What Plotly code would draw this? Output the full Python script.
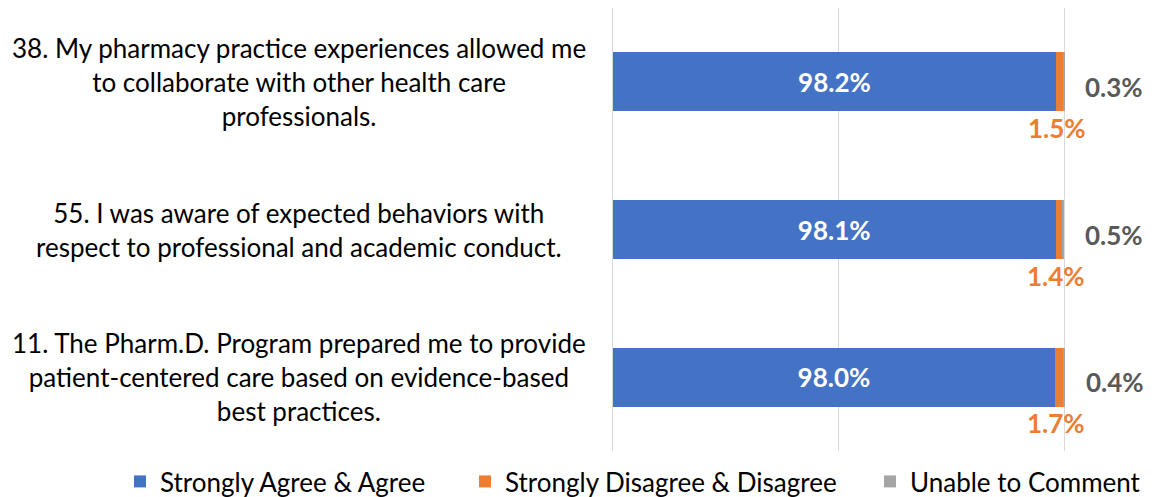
import plotly.graph_objects as go

categories = ["Q11", "Q55", "Q38"]
cat_labels = [
    "11. The Pharm.D. Program prepared me to provide<br>patient-centered care based on evidence-based<br>best practices.",
    "55. I was aware of expected behaviors with<br>respect to professional and academic conduct.",
    "38. My pharmacy practice experiences allowed me<br>to collaborate with other health care<br>professionals.",
]
agree = [98.0, 98.1, 98.2]
disagree = [1.7, 1.4, 1.5]
unable = [0.4, 0.5, 0.3]
series_names = ["Strongly Agree & Agree", "Strongly Disagree & Disagree", "Unable to Comment"]
colors = ["#4472C4", "#ED7D31", "#A5A5A5"]

FONT = "Lato"
FS = 26
# the page body adds an 8px margin, so the figure is 8px smaller than the window
FIG_W, FIG_H = 1147, 489
L, R = 600, 1061  # plot area edges in px (x range -1..101)
W = R - L
T, B = 0, 443

def px_to_paper(px):
    return (px - L) / W

legend_widths = [300, 360, None]

fig = go.Figure()
for k, vals in enumerate([agree, disagree, unable]):
    kw = {}
    if k == 0:
        kw = dict(text=[f"{v:.1f}%" for v in vals], textposition="inside",
                  insidetextanchor="middle",
                  textfont=dict(family=FONT, size=FS, color="white", weight="bold"))
    if legend_widths[k]:
        kw["legendwidth"] = legend_widths[k]
    fig.add_trace(go.Bar(
        y=categories, x=vals, orientation="h", name=series_names[k],
        marker=dict(color=colors[k], line=dict(width=0)),
        hoverinfo="skip", **kw,
    ))

annotations = []
for i, c in enumerate(categories):
    annotations.append(dict(
        x=agree[i] + disagree[i] / 2, y=c, xref="x", yref="y",
        text=f"{disagree[i]:.1f}%", showarrow=False, xanchor="center",
        yshift=-46, xshift=-3,
        font=dict(family=FONT, size=FS, color="#ED7D31", weight="bold"),
    ))
    annotations.append(dict(
        x=agree[i] + disagree[i] + unable[i], y=c, xref="x", yref="y",
        text=f"{unable[i]:.1f}%", showarrow=False, xanchor="center",
        xshift=50, yshift=-5,
        font=dict(family=FONT, size=FS, color="#595959", weight="bold"),
    ))
    annotations.append(dict(
        x=px_to_paper(291), y=c, xref="paper", yref="y",
        text=cat_labels[i], showarrow=False, xanchor="center", align="center",
        font=dict(family=FONT, size=FS, color="black"),
    ))

fig.update_layout(
    barmode="stack",
    bargap=0.6,
    width=FIG_W, height=FIG_H,
    margin=dict(l=L, r=FIG_W - R, t=T, b=FIG_H - B, autoexpand=False),
    plot_bgcolor="white", paper_bgcolor="white",
    font=dict(family=FONT, size=FS, color="black"),
    xaxis=dict(range=[-1, 101], tickvals=[0, 50, 100], showticklabels=False,
               showgrid=True, gridcolor="#D9D9D9", gridwidth=1,
               zeroline=False, showline=False, fixedrange=True),
    yaxis=dict(type="category", categoryorder="array", categoryarray=categories,
               showticklabels=False, showgrid=False, zeroline=False,
               range=[-0.5, 2.5]),
    legend=dict(orientation="h", x=px_to_paper(112), xanchor="left",
                y=-7 / (B - T), yanchor="top",
                font=dict(family=FONT, size=FS, color="black"),
                traceorder="normal", itemwidth=30),
    annotations=annotations,
    showlegend=True,
)
fig.write_html("out.html")
